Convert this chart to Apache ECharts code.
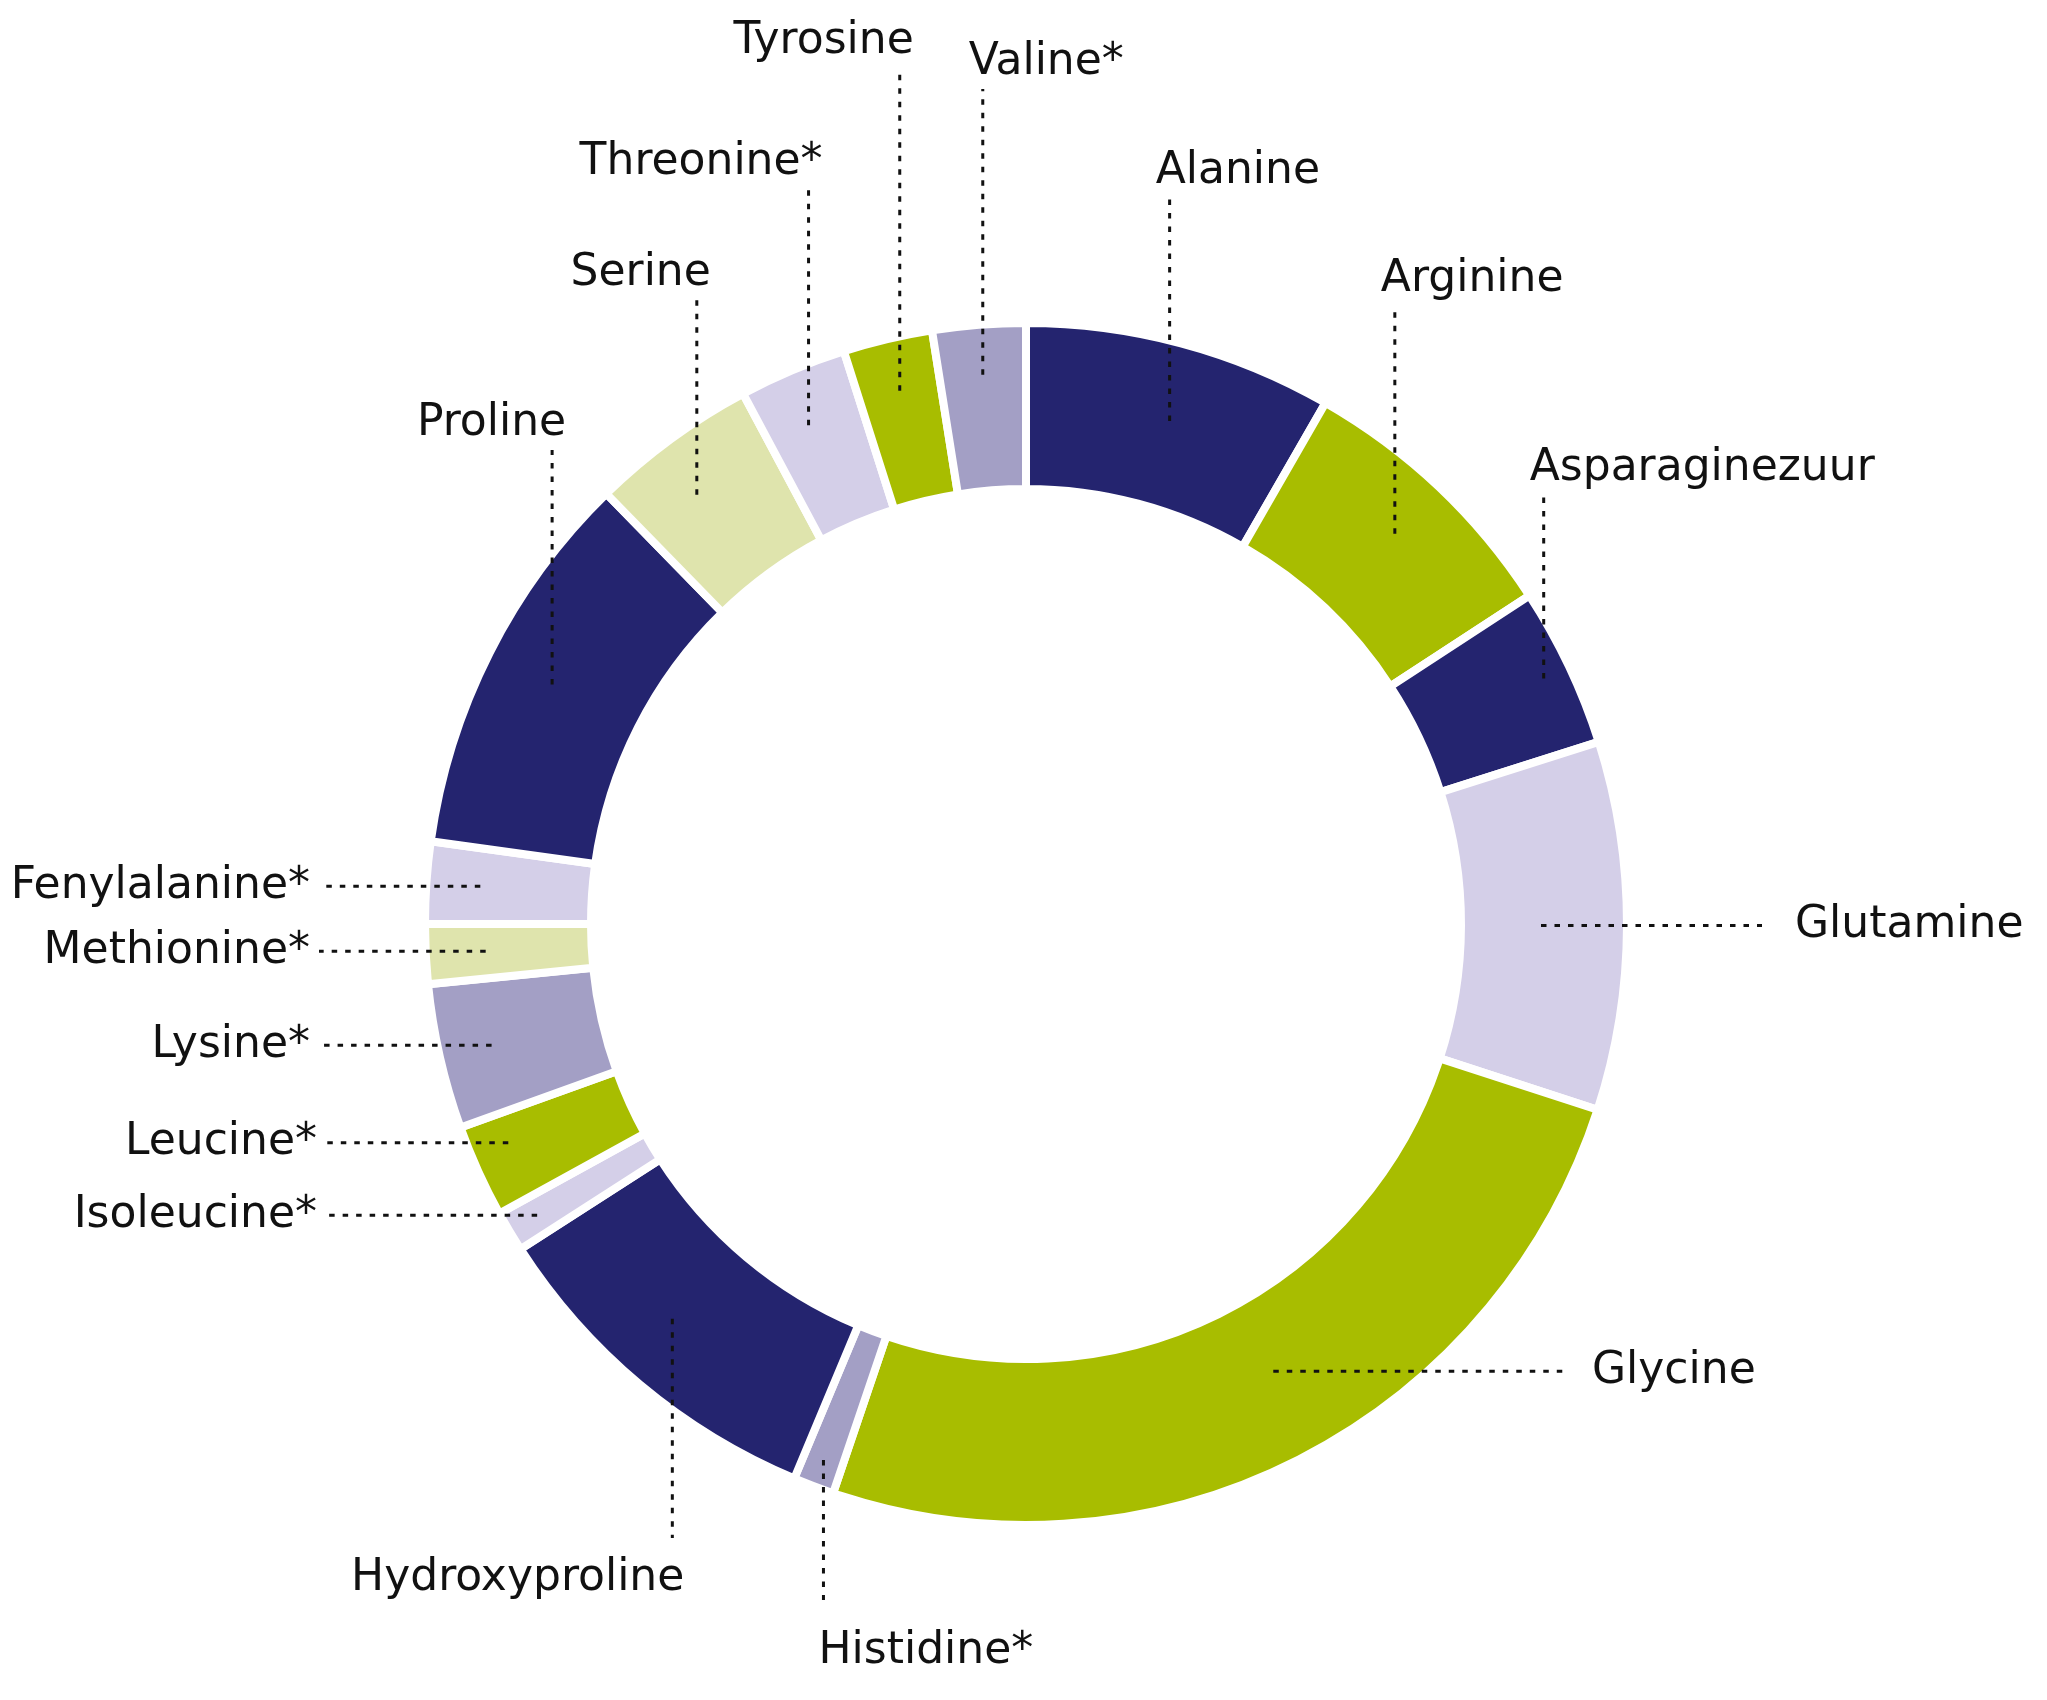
<!DOCTYPE html>
<html>
<head>
<meta charset="utf-8">
<script src="https://cdn.jsdelivr.net/npm/echarts@6/dist/echarts.min.js"></script>
<style>
  html, body { margin: 0; padding: 0; background: #fff; }
  #chart { width: 2047px; height: 1700px; }
</style>
</head>
<body>
<div id="chart"></div>
<script>
// amino acids, clockwise from 12 o'clock
var names = ['Alanine', 'Arginine', 'Asparaginezuur', 'Glutamine', 'Glycine', 'Histidine*',
    'Hydroxyproline', 'Isoleucine*', 'Leucine*', 'Lysine*', 'Methionine*', 'Fenylalanine*',
    'Proline', 'Serine', 'Threonine*', 'Tyrosine', 'Valine*'];
var values = [8.3, 7.5, 4.3, 9.9, 25.2, 1.1, 9.6, 1.1, 2.5, 3.9, 1.6, 2.2, 10.5, 4.5, 2.9, 2.4, 2.5];

var NAVY = '#24246f', GREEN = '#a8bd00', LILAC = '#d4cfe8', LAVENDER = '#a39fc5', PALE = '#dfe4ad';
var colors = [NAVY, GREEN, NAVY, LILAC, GREEN, LAVENDER, NAVY, LILAC, GREEN, LAVENDER, PALE, LILAC,
    NAVY, PALE, LILAC, GREEN, LAVENDER];

// label placement: direction of the leader line, radius where it starts (da = angle nudge, deg),
// where it ends, text alignment and text offset from the line
var labelSpec = [
    {dir: 'up', r: 523, da: 1.0, end: 198, align: 'left', dx: -14},
    {dir: 'up', r: 537, end: 306, align: 'left', dx: -14},
    {dir: 'up', r: 573, end: 495, align: 'left', dx: -14},
    {dir: 'right', r: 515, end: 1762, align: 'left', dx: 33},
    {dir: 'right', r: 511, da: -2.3, end: 1568, align: 'left', dx: 24},
    {dir: 'down', r: 573, end: 1600, align: 'left', dx: -5, dy: 16},
    {dir: 'down', r: 530, da: 1.9, end: 1538, align: 'right', dx: 12, dy: 5},
    {dir: 'left', r: 569, end: 326, align: 'right', dx: -9},
    {dir: 'left', r: 562, da: 1.4, end: 326, align: 'right', dx: -9},
    {dir: 'left', r: 548, end: 319, align: 'right', dx: -9},
    {dir: 'left', r: 541, end: 319, align: 'right', dx: -9},
    {dir: 'left', r: 547, end: 319, align: 'right', dx: -9},
    {dir: 'up', r: 531, end: 450, align: 'right', dx: 14},
    {dir: 'up', r: 541, da: -1.3, end: 300, align: 'right', dx: 14},
    {dir: 'up', r: 544, da: -0.7, end: 189, align: 'right', dx: 14},
    {dir: 'up', r: 548, end: 68, align: 'right', dx: 14},
    {dir: 'up', r: 551, end: 89, align: 'left', dx: -14}
];

var cx = 1026, cy = 924;

var total = values.reduce(function (a, b) { return a + b; }, 0);
var midAngles = [];
var acc = 0;
values.forEach(function (v) {
    midAngles.push((acc + v / 2) / total * Math.PI * 2);
    acc += v;
});

var chart = echarts.init(document.getElementById('chart'));

var pieData = names.map(function (n, i) {
    return {name: n, value: values[i], itemStyle: {color: colors[i]}};
});

chart.setOption({
    animation: false,
    backgroundColor: '#fff',
    series: [{
        // the ring itself
        type: 'pie',
        center: [cx, cy],
        radius: [435, 601],
        startAngle: 90,
        clockwise: true,
        silent: true,
        label: {show: false},
        labelLine: {show: false},
        itemStyle: {
            borderColor: '#fff',
            borderWidth: 8
        },
        data: pieData
    }, {
        // transparent copy on top, carrying labels and dotted leaders over the ring
        type: 'pie',
        z: 5,
        center: [cx, cy],
        radius: [435, 601],
        startAngle: 90,
        clockwise: true,
        silent: true,
        avoidLabelOverlap: false,
        itemStyle: {
            color: 'rgba(0,0,0,0)',
            borderWidth: 0
        },
        label: {
            show: true,
            position: 'outside',
            formatter: '{b}',
            color: '#111',
            fontFamily: 'DejaVu Sans',
            fontSize: 44
        },
        labelLine: {
            show: true,
            smooth: false,
            lineStyle: {
                color: '#111',
                width: 3,
                type: [5.5, 8]
            }
        },
        labelLayout: function (params) {
            var i = params.dataIndex;
            var s = labelSpec[i];
            var a = midAngles[i] + (s.da || 0) * Math.PI / 180;
            var sx = cx + s.r * Math.sin(a);
            var sy = cy - s.r * Math.cos(a);
            var ex = sx, ey = sy, lx, ly, va;
            var dy = s.dy || 0;
            if (s.dir === 'up') {
                ey = s.end; lx = sx + s.dx; ly = s.end - 4 + dy; va = 'bottom';
            } else if (s.dir === 'down') {
                ey = s.end; lx = sx + s.dx; ly = s.end + 14 + dy; va = 'top';
            } else {
                ex = s.end; lx = s.end + s.dx; ly = sy + dy; va = 'middle';
            }
            return {
                x: lx,
                y: ly,
                align: s.align,
                verticalAlign: va,
                labelLinePoints: [[sx, sy], [ex, ey], [ex, ey]]
            };
        },
        data: names.map(function (n, i) {
            return {name: n, value: values[i]};
        })
    }]
});
</script>
</body>
</html>
